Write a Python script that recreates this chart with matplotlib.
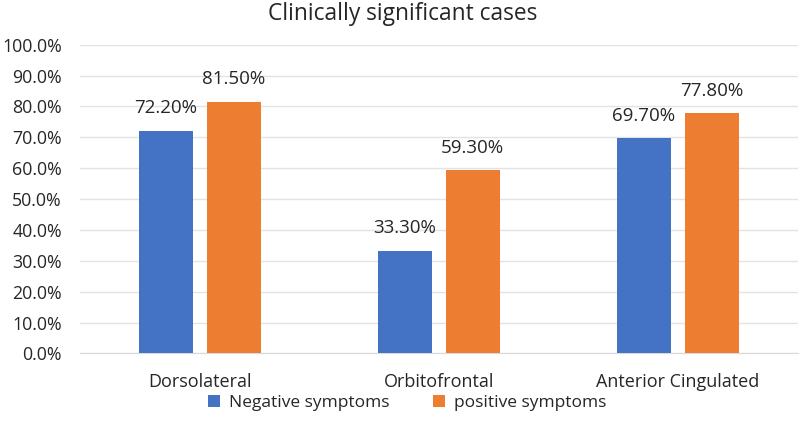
import matplotlib
matplotlib.use("Agg")
import matplotlib.pyplot as plt
import numpy as np

plt.rcParams["font.family"] = ["Open Sans", "DejaVu Sans"]

categories = ["Dorsolateral", "Orbitofrontal", "Anterior Cingulated"]
negative = [72.2, 33.3, 69.7]
positive = [81.5, 59.3, 77.8]
yticks = np.arange(0, 101, 10)

fig = plt.figure(figsize=(8, 4.38), dpi=100)
ax = fig.add_axes([0.1, 0.193, 0.897, 0.705])

x = np.arange(len(categories))
w = 0.226
off = 0.142
b1 = ax.bar(x - off, negative, w, color="#4472C4", label="Negative symptoms", zorder=3)
b2 = ax.bar(x + off, positive, w, color="#ED7D31", label="positive symptoms", zorder=3)

for bars, vals in ((b1, negative), (b2, positive)):
    for r, v in zip(bars, vals):
        ax.text(r.get_x() + r.get_width() / 2, v + 7.3, f"{v:.2f}%",
                ha="center", va="center", fontsize=13.5, color="#262626")

ax.set_xlim(-0.5, 2.5)
ax.set_ylim(0, 100)
ax.set_yticks(yticks)
ax.set_yticklabels([f"{t:.1f}%" for t in yticks])
ax.set_xticks(x)
ax.set_xticklabels(categories)
ax.tick_params(axis="both", length=0, labelsize=13, colors="#262626")
ax.tick_params(axis="x", pad=14)
ax.tick_params(axis="y", pad=13, labelsize=12.8)
ax.grid(axis="y", color="#E3E3E3", linewidth=1, zorder=0)
ax.set_axisbelow(True)
for s in ("top", "right", "left"):
    ax.spines[s].set_visible(False)
ax.spines["bottom"].set_color("#D9D9D9")

fig.suptitle("Clinically significant cases", fontsize=16.4, color="#262626", x=0.503, y=0.995)
fig.legend(loc="lower center", bbox_to_anchor=(0.509, 0.025), ncol=2, frameon=False,
           fontsize=12.5, handlelength=0.7, handleheight=0.7, columnspacing=2.5,
           handletextpad=0.5, labelcolor="#262626")

fig.savefig("out.png", dpi=100)
plt.close()
